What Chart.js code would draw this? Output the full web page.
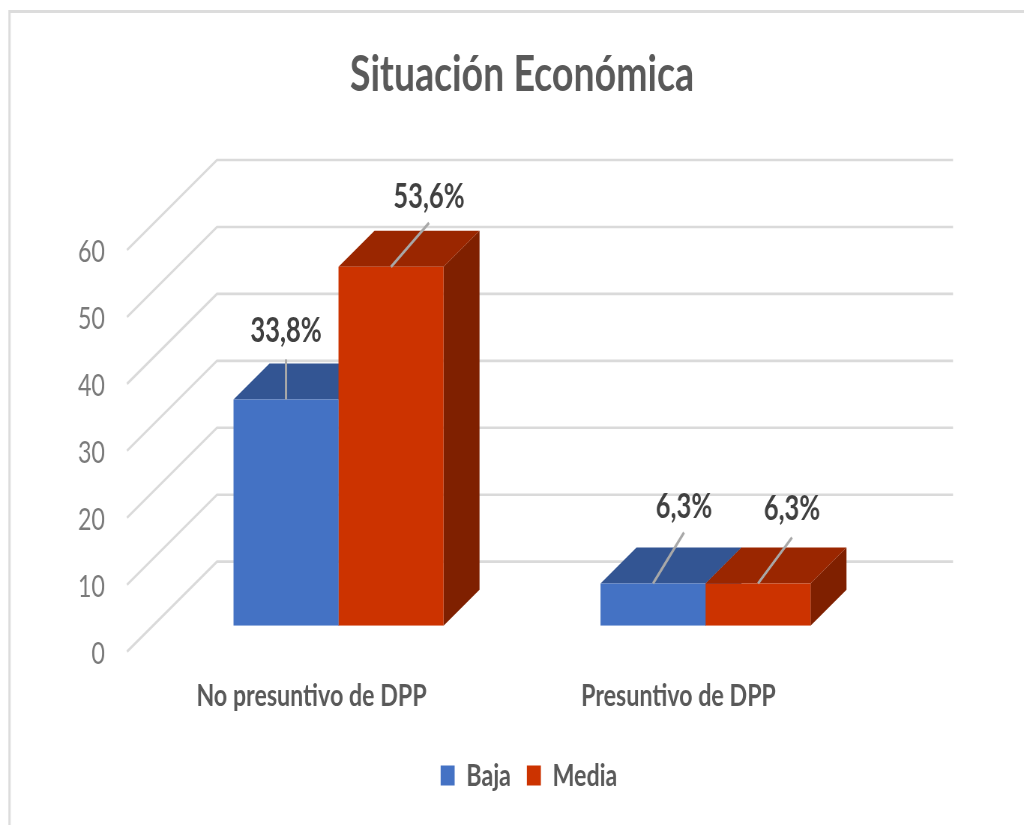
<!DOCTYPE html>
<html lang="es">
<head>
<meta charset="utf-8">
<title>Situación Económica</title>
<style>
html,body{margin:0;padding:0;background:#fff;overflow:hidden;width:1024px;height:825px}
#wrap{position:absolute;left:0;top:0;width:1366px;height:825px;transform-origin:0 0;transform:scaleX(0.7496);filter:blur(0.4px)}
canvas{display:block}
</style>
<script src="https://cdn.jsdelivr.net/npm/chart.js@4"></script>
</head>
<body>
<div id="wrap"><canvas id="c" width="1366" height="825"></canvas></div>
<script>
const titleText = 'Situación Económica';
const categories = ['No presuntivo de DPP', 'Presuntivo de DPP'];
const seriesNames = ['Baja', 'Media'];
const baja = [33.8, 6.3];
const media = [53.6, 6.3];
const yTicks = [0, 10, 20, 30, 40, 50, 60];

const S = 0.7496;                 // horizontal squeeze of the whole picture
const sx = v => v / S;            // screen px -> canvas px
const DEPTH_X = sx(36), DEPTH_Y = 36;
const FLOOR_FRONT = 26, FLOOR_BACK = 64;
const GRID_LEFT = sx(127), GRID_BACK = sx(217), GRID_RIGHT = sx(953);

const styles = [
  {front:'#4472c4', top:'#335593', side:'#2a4a85'},
  {front:'#cc3300', top:'#9a2600', side:'#7f2000'}
];
// leader [dx,dy] from the middle of each bar's top front edge, label anchor above it
const leaders = [
  [[0,-40],[31,-51]],
  [[38,-44],[34,-46]]
];
const labelGap = [[28,25],[26,28]];

const scene = {
  id:'scene',
  afterLayout(chart){
    const d = sx(7);
    chart.legend.left += d;
    chart.legend.right += d;
  },
  beforeDraw(chart){
    const c = chart.ctx;
    c.save();
    c.fillStyle='#fff';
    c.fillRect(0,0,chart.width,chart.height);
    c.strokeStyle='#dcdcdc';
    c.lineWidth=3;
    c.beginPath();
    c.moveTo(chart.width,11.5);
    c.lineTo(sx(9.5),11.5);
    c.lineTo(sx(9.5),chart.height);
    c.stroke();
    c.restore();
  },
  beforeDatasetsDraw(chart){
    const c = chart.ctx, y = chart.scales.y;
    c.save();
    // walls and floor gridlines
    c.strokeStyle='#dadada';
    c.lineJoin='miter';
    yTicks.forEach(v=>{
      const p = y.getPixelForValue(v);
      c.lineWidth=2.6;
      c.beginPath();
      c.moveTo(GRID_LEFT,p+FLOOR_FRONT);
      c.lineTo(GRID_BACK,p-FLOOR_BACK);
      c.lineTo(GRID_RIGHT,p-FLOOR_BACK);
      c.stroke();
    });
    // top and side faces of each column
    chart.data.datasets.forEach((ds,i)=>{
      chart.getDatasetMeta(i).data.forEach(bar=>{
        const l=bar.x-bar.width/2, r=bar.x+bar.width/2, t=bar.y, b=bar.base, st=styles[i];
        c.fillStyle=st.side;
        c.beginPath();
        c.moveTo(r,t);c.lineTo(r+DEPTH_X,t-DEPTH_Y);c.lineTo(r+DEPTH_X,b-DEPTH_Y);c.lineTo(r,b);
        c.closePath();c.fill();
        c.fillStyle=st.top;
        c.beginPath();
        c.moveTo(l,t);c.lineTo(l+DEPTH_X,t-DEPTH_Y);c.lineTo(r+DEPTH_X,t-DEPTH_Y);c.lineTo(r,t);
        c.closePath();c.fill();
      });
    });
    c.restore();
  },
  afterDatasetsDraw(chart){
    const c = chart.ctx;
    c.save();
    chart.data.datasets.forEach((ds,i)=>{
      chart.getDatasetMeta(i).data.forEach((bar,j)=>{
        const [dx,dy]=leaders[i][j];
        const ex=bar.x+sx(dx), ey=bar.y+dy;
        c.strokeStyle='#a8a8a8';
        c.lineWidth=3;
        c.beginPath();c.moveTo(bar.x,bar.y);c.lineTo(ex,ey);c.stroke();
        c.fillStyle='#404040';
        c.font='700 34px Lato';
        c.textAlign='center';
        c.textBaseline='middle';
        c.fillText(ds.data[j].toFixed(1).replace('.',',')+'%',ex,ey-labelGap[i][j]);
      });
    });
    c.restore();
  }
};

new Chart(document.getElementById('c'),{
  type:'bar',
  data:{
    labels:categories,
    datasets:[
      {label:seriesNames[0],data:baja,backgroundColor:styles[0].front},
      {label:seriesNames[1],data:media,backgroundColor:styles[1].front}
    ]
  },
  plugins:[scene],
  options:{
    responsive:false,
    animation:false,
    devicePixelRatio:1,
    categoryPercentage:0.5722,
    barPercentage:1,
    layout:{padding:{left:0,top:0,bottom:24,right:1366-sx(889)}},
    scales:{
      x:{
        grid:{display:false,drawTicks:false},
        border:{display:false},
        ticks:{padding:52,labelOffset:sx(-27),color:'#595959',font:{family:'Lato',size:31,weight:'700'},maxRotation:0,autoSkip:false},
        afterFit(s){s.height=113;}
      },
      y:{
        min:0,max:60,
        grid:{display:false,drawTicks:false},
        border:{display:false},
        ticks:{stepSize:10,padding:sx(50),labelOffset:28,color:'#7a7a7a',font:{family:'Lato',size:31,weight:'400'}},
        afterFit(s){s.width=sx(155);}
      }
    },
    plugins:{
      tooltip:{enabled:false},
      title:{
        display:true,text:titleText,fullSize:false,
        color:'#595959',font:{family:'Lato',size:50,weight:'700',lineHeight:1.2},
        padding:{top:45,bottom:119}
      },
      legend:{
        display:true,position:'bottom',fullSize:false,
        labels:{
          boxWidth:sx(14),boxHeight:20,padding:sx(16),
          color:'#595959',font:{family:'Lato',size:31,weight:'700'}
        }
      }
    }
  }
});
</script>
</body>
</html>
